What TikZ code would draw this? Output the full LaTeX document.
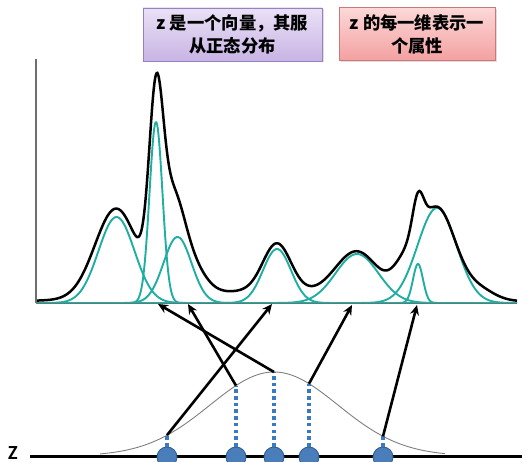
\documentclass[tikz,border=0pt]{standalone}
\usepackage{fontspec}
\newfontfamily\cjk{Noto Sans CJK SC}
\newfontfamily\zfont{Carlito}
\usetikzlibrary{arrows.meta,shadows}
\definecolor{tealc}{RGB}{32,174,162}
\definecolor{axisc}{RGB}{110,110,110}
\definecolor{dotfill}{RGB}{74,126,187}
\definecolor{dotdraw}{RGB}{46,92,143}
\definecolor{guidec}{RGB}{60,122,192}
\definecolor{purpletop}{RGB}{234,225,246}
\definecolor{purplebot}{RGB}{200,180,228}
\definecolor{purpleline}{RGB}{150,130,195}
\definecolor{redtop}{RGB}{252,216,216}
\definecolor{redbot}{RGB}{244,160,160}
\definecolor{redline}{RGB}{205,120,120}
\tikzset{
  infobox/.style={draw, line width=0.9pt, align=center, inner sep=0pt,
    minimum height=53pt, font=\cjk\bfseries\fontsize{17.3}{23}\selectfont,
    drop shadow={opacity=0.25, shadow xshift=1.5pt, shadow yshift=-1.5pt}},
  purplebox/.style={infobox, draw=purpleline, top color=purpletop, bottom color=purplebot, minimum width=179pt},
  redbox/.style={infobox, draw=redline, top color=redtop, bottom color=redbot, minimum width=156pt},
  comp/.style={draw=tealc, line width=1.9pt},
  mix/.style={draw=black, line width=2.5pt},
  bell/.style={draw=gray, line width=0.9pt},
  latent/.style={circle, minimum size=20pt, inner sep=0pt, fill=dotfill, draw=dotdraw, line width=0.8pt},
  guide/.style={draw=guidec, line width=3.8pt, dash pattern=on 3.6pt off 3.1pt},
  maparrow/.style={draw=black, line width=2.6pt, -{Stealth[length=10pt,width=9pt]}},
}
\begin{document}
\begin{tikzpicture}[x=1pt,y=-1pt,
  declare function={
    gs(\t,\m,\a,\s)=\a*exp(-((\t-\m)/\s)^2/2);
    lz(\t,\m,\a,\g)=\a/(1+((\t-\m)/\g)^2);
  }]
\useasboundingbox (0,0) rectangle (528,462);
\fill[white] (0,0) rectangle (528,462);

% boxes
\node[purplebox] (boxa) at (232.5,34.5) {z 是一个向量，其服\\从正态分布};
\node[redbox] (boxb) at (417,34.2) {z 的每一维表示一\\个属性};

% teal components
\foreach \m/\a/\s in {116.5/86/18, 156/181/6.5, 177.5/66/14, 277/54/14, 357/49/21.5, 418/39/5, 437/95/19.5}{
  \pgfmathsetmacro{\lo}{max(37,\m-5*\s)}
  \pgfmathsetmacro{\hi}{min(517,\m+5*\s)}
  \draw[comp] plot[domain=\lo:\hi, samples=90, smooth] (\x,{303-gs(\x,\m,\a,\s)});
}
% mixture
\draw[mix] plot[domain=37:517, samples=360, smooth]
  (\x,{303-(gs(\x,116,90,21)+gs(\x,156,165,7)+gs(\x,172,96,12.5)+gs(\x,194,22,13)
   +gs(\x,277,48,14)+gs(\x,357,45,21.5)+gs(\x,405,25,12)+gs(\x,418,38,5.5)
   +gs(\x,437,92,18.5)+gs(\x,480,10,15)+lz(\x,260,12,110))});

% axes
\coordinate (origin) at (36,303);
\coordinate (ytop) at (36,59);
\coordinate (xend) at (517,303);
\draw[axisc, line width=1.6pt] (ytop) -- (origin);
\draw[axisc!80!tealc, line width=2.4pt] (origin) -- (xend);
\draw[tealc, line width=1.2pt] (37,302.4) -- (517,302.4);

% targets on axis
\coordinate (t1) at (158,304);
\coordinate (t2) at (188,304);
\coordinate (t3) at (272,304);
\coordinate (t4) at (352,305);
\coordinate (t5) at (417,305);

% z line and bell
\coordinate (zl) at (30,456.5);
\coordinate (zr) at (522,456.5);
\draw[black, line width=2.8pt] (zl) -- (zr);
\node[font=\zfont\bfseries\fontsize{20}{20}\selectfont, inner sep=0pt, anchor=center] (zlab) at (13,453) {Z};
\draw[bell] plot[domain=100:445, samples=140, smooth] (\x,{456-gs(\x,274,84,64)});

% points on bell
\coordinate (p1) at (167,435.2);
\coordinate (p2) at (236,385.6);
\coordinate (p3) at (274,372);
\coordinate (p4) at (309,383.7);
\coordinate (p5) at (383,436.3);

% latent samples
\node[latent] (d1) at (167,457) {};
\node[latent] (d2) at (236,457) {};
\node[latent] (d3) at (274,457) {};
\node[latent] (d4) at (309,457) {};
\node[latent] (d5) at (383,457) {};

\draw[guide] (d1.north) -- (p1);
\draw[guide] (d2.north) -- (p2);
\draw[guide] (d3.north) -- (p3);
\draw[guide] (d4.north) -- (p4);
\draw[guide] (d5.north) -- (p5);

% mapping arrows
\draw[maparrow] (p3) -- (t1);
\draw[maparrow] (p2) -- (t2);
\draw[maparrow] (p1) -- (t3);
\draw[maparrow] (p4) -- (t4);
\draw[maparrow] (p5) -- (t5);
\end{tikzpicture}
\end{document}
